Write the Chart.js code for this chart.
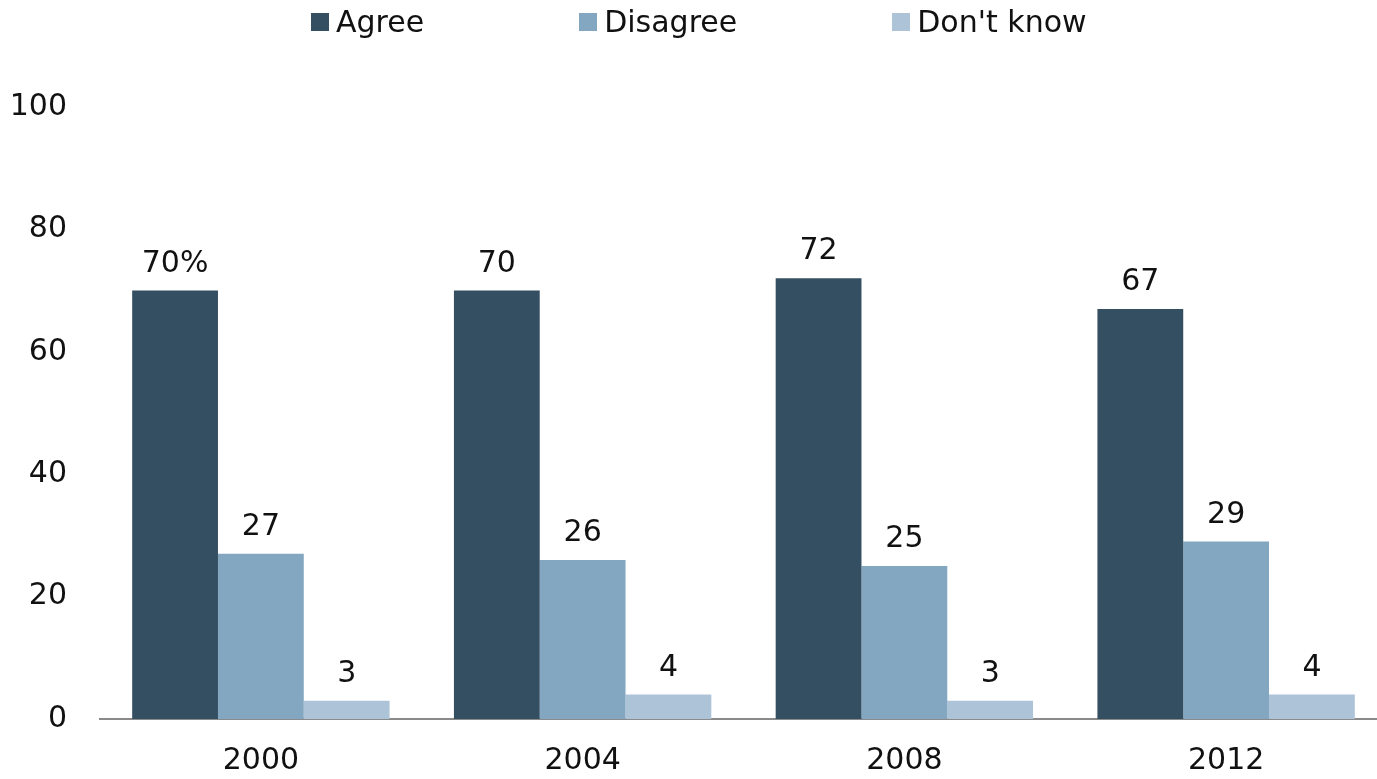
<!DOCTYPE html>
<html lang="en">

<head>
    <meta charset="UTF-8">
    <script src="https://cdn.jsdelivr.net/npm/chart.js"></script>
    <title>Agree / Disagree</title>
    <style>
        html, body { margin: 0; padding: 0; background: #fff; overflow: hidden; width: 1377px; height: 779px; }
        .wrap { position: relative; width: 1377px; height: 779px; overflow: hidden; }
        #legend { position: absolute; left: 311px; top: 4px; display: flex; font-family: 'DejaVu Sans'; font-size: 30px; color: #111; }
        #legend .item { display: flex; align-items: center; margin-right: 155px; }
        #legend .box { width: 18px; height: 18px; margin-right: 7px; }
        canvas { position: absolute; left: 0; top: 0; }
    </style>
</head>

<body>
    <div class="wrap">
        <canvas id="myChart" width="1390" height="779"></canvas>
        <div id="legend"></div>
    </div>
    <script>
        const years = ['2000', '2004', '2008', '2012'];
        const agree = [70, 70, 72, 67];
        const disagree = [27, 26, 25, 29];
        const dontKnow = [3, 4, 3, 4];
        const yTicks = [0, 20, 40, 60, 80, 100];

        const colors = ['#344f61', '#84a7c1', '#adc3d7'];

        // labels above each bar, first one gets a percent sign
        const barLabels = {
            id: 'barLabels',
            afterDatasetsDraw(chart) {
                const ctx = chart.ctx;
                ctx.save();
                ctx.font = '30px "DejaVu Sans"';
                ctx.fillStyle = '#111';
                ctx.textAlign = 'center';
                ctx.textBaseline = 'alphabetic';
                chart.data.datasets.forEach((ds, i) => {
                    chart.getDatasetMeta(i).data.forEach((bar, j) => {
                        let txt = String(ds.data[j]);
                        if (i === 0 && j === 0) txt += '%';
                        ctx.fillText(txt, bar.x, bar.y - 19);
                    });
                });
                ctx.restore();
            }
        };

        const config = {
            type: 'bar',
            data: {
                labels: years,
                datasets: [
                    { label: 'Agree', data: agree, backgroundColor: colors[0] },
                    { label: 'Disagree', data: disagree, backgroundColor: colors[1] },
                    { label: "Don't know", data: dontKnow, backgroundColor: colors[2] }
                ]
            },
            options: {
                responsive: false,
                animation: false,
                layout: {
                    padding: { top: 107, left: 0, right: 3, bottom: 0 }
                },
                datasets: {
                    bar: {
                        categoryPercentage: 0.8,
                        barPercentage: 1.0
                    }
                },
                plugins: {
                    legend: { display: false },
                    tooltip: { enabled: false }
                },
                scales: {
                    x: {
                        afterFit: (axis) => { axis.height = 60; },
                        grid: { display: false, drawTicks: false },
                        border: { display: true, color: '#8a8a8a', width: 2 },
                        ticks: {
                            padding: 24,
                            color: '#111',
                            font: { family: 'DejaVu Sans', size: 30 }
                        }
                    },
                    y: {
                        min: 0,
                        max: 100,
                        afterBuildTicks: (axis) => {
                            axis.ticks = yTicks.map(v => ({ value: v }));
                        },
                        afterFit: (axis) => { axis.width = 100; },
                        grid: { display: false, drawTicks: false },
                        border: { display: false },
                        ticks: {
                            padding: 33,
                            color: '#111',
                            font: { family: 'DejaVu Sans', size: 30 }
                        }
                    }
                }
            },
            plugins: [barLabels]
        };

        const myChart = new Chart(document.getElementById('myChart'), config);

        // html legend
        const legendEl = document.getElementById('legend');
        myChart.data.datasets.forEach(ds => {
            const item = document.createElement('div');
            item.className = 'item';
            const box = document.createElement('span');
            box.className = 'box';
            box.style.background = ds.backgroundColor;
            const txt = document.createElement('span');
            txt.textContent = ds.label;
            item.appendChild(box);
            item.appendChild(txt);
            legendEl.appendChild(item);
        });
    </script>
</body>

</html>
